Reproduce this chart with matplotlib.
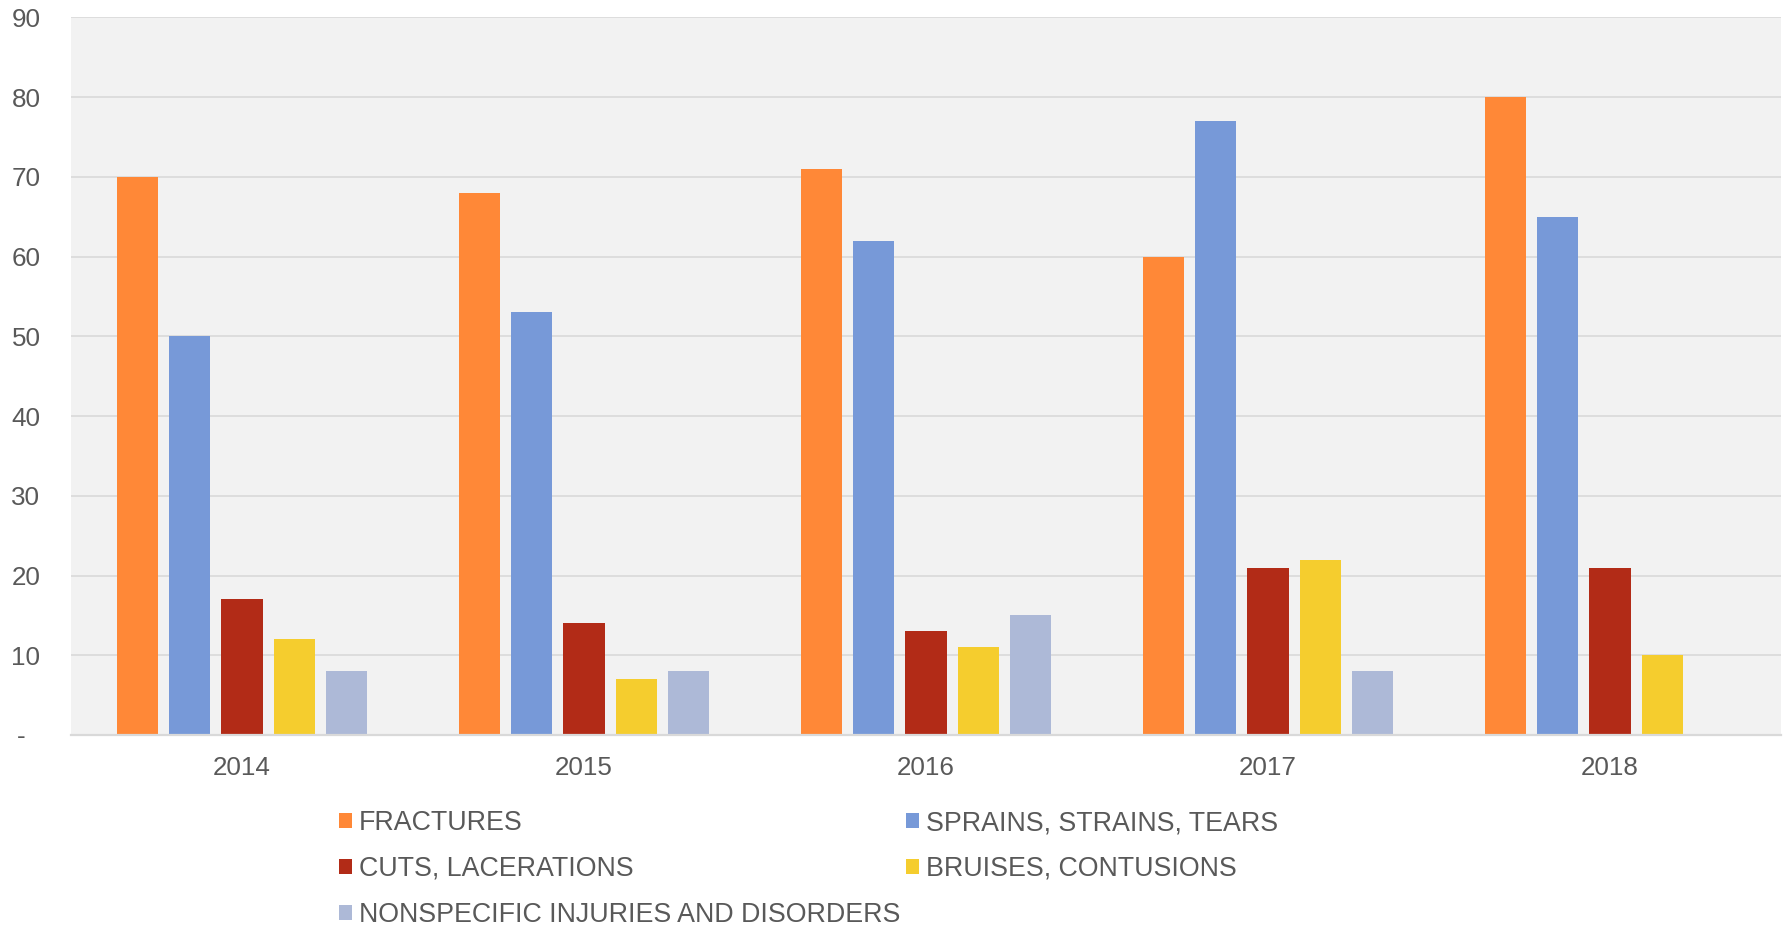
import numpy as np
import matplotlib
matplotlib.use("Agg")
import matplotlib.pyplot as plt
from matplotlib.patches import Patch

plt.rcParams['font.family'] = ['Liberation Sans', 'DejaVu Sans']

years = ["2014", "2015", "2016", "2017", "2018"]
fractures = [70, 68, 71, 60, 80]
sprains = [50, 53, 62, 77, 65]
cuts = [17, 14, 13, 21, 21]
bruises = [12, 7, 11, 22, 10]
nonspecific = [8, 8, 15, 8, np.nan]

series_names = ["FRACTURES", "SPRAINS, STRAINS, TEARS", "CUTS, LACERATIONS",
                "BRUISES, CONTUSIONS", "NONSPECIFIC INJURIES AND DISORDERS"]
series_values = [fractures, sprains, cuts, bruises, nonspecific]
colors = ["#FF8837", "#7799D8", "#B22B17", "#F5CD2E", "#ADB9D7"]

y_ticks = [0, 10, 20, 30, 40, 50, 60, 70, 80, 90]
y_tick_labels = ["-  ", "10", "20", "30", "40", "50", "60", "70", "80", "90"]

TEXT = "#595959"
FS = 18.7
LFS = 19.3

fig = plt.figure(figsize=(17.85, 9.26), dpi=100)
ax = fig.add_axes([71/1785, 1 - 735/926, 1710/1785, (735 - 17.3)/926])
ax.set_facecolor("#F2F2F2")

x = np.arange(len(years))
pitch = 0.1532
width = 0.1208
handles = []
for i, (name, vals, c) in enumerate(zip(series_names, series_values, colors)):
    offs = (i - 2) * pitch
    ax.bar(x + offs, vals, width=width, color=c, zorder=3, linewidth=0)
    handles.append(Patch(facecolor=c, edgecolor='none', label=name))

ax.set_xlim(-0.5, 4.5)
ax.set_ylim(0, 90)
ax.set_xticks(x)
ax.set_xticklabels(years, fontsize=FS, color=TEXT)
ax.set_yticks(y_ticks)
ax.set_yticklabels(y_tick_labels, fontsize=FS, color=TEXT)
ax.tick_params(axis='x', length=0, pad=15.3)
ax.tick_params(axis='y', length=0, pad=22)
ax.yaxis.grid(True, color="#D9D9D9", linewidth=1.2, zorder=0)
ax.set_axisbelow(True)
for s in ["top", "right", "left"]:
    ax.spines[s].set_visible(False)
ax.spines["bottom"].set_color("#D9D9D9")
ax.spines["bottom"].set_linewidth(1.6)
ax.spines["bottom"].set_zorder(4)

common = dict(frameon=False, fontsize=LFS, labelcolor=TEXT, borderpad=0,
              borderaxespad=0, handlelength=0.5, handleheight=0.5,
              handletextpad=0.24, labelspacing=0.74, loc='upper left')
col1 = [handles[0], handles[2], handles[4]]
col2 = [handles[1], handles[3]]
leg1 = fig.legend(handles=col1, bbox_to_anchor=(339/1785, 1 - 810/926), **common)
leg2 = fig.legend(handles=col2, bbox_to_anchor=(906/1785, 1 - 810/926), **common)

fig.savefig("out.png", dpi=100)
